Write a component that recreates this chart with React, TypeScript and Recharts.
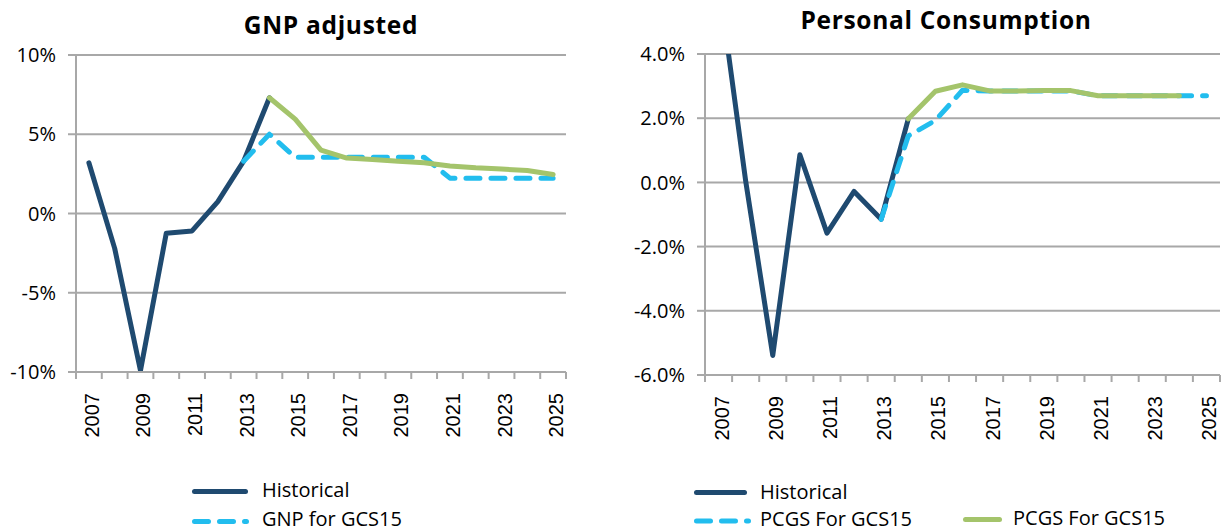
import { LineChart, Line, XAxis, YAxis, CartesianGrid, Legend } from 'recharts'

const YEARS = [2007, 2008, 2009, 2010, 2011, 2012, 2013, 2014, 2015, 2016, 2017, 2018, 2019, 2020, 2021, 2022, 2023, 2024, 2025]

// GNP adjusted, annual % change
const GNP_HISTORICAL = [3.2, -2.2, -9.9, -1.25, -1.1, 0.75, 3.3, 7.3, null, null, null, null, null, null, null, null, null, null, null]
const GNP_GCS15 = [null, null, null, null, null, null, 3.3, 5.0, 3.55, 3.55, 3.55, 3.55, 3.55, 3.55, 2.23, 2.23, 2.23, 2.23, 2.23]
const GNP_UPDATE = [null, null, null, null, null, null, null, 7.3, 5.95, 4.0, 3.5, 3.4, 3.3, 3.2, 3.0, 2.88, 2.8, 2.71, 2.46]

// personal consumption, annual % change
const PC_HISTORICAL = [6.3, 0.05, -5.39, 0.86, -1.58, -0.28, -1.15, 1.98, null, null, null, null, null, null, null, null, null, null, null]
const PC_GCS15 = [null, null, null, null, null, null, -1.15, 1.45, 1.93, 2.87, 2.85, 2.85, 2.85, 2.85, 2.7, 2.7, 2.7, 2.7, 2.7]
const PC_UPDATE = [null, null, null, null, null, null, null, 1.98, 2.84, 3.04, 2.85, 2.85, 2.86, 2.86, 2.7, 2.7, 2.7, 2.7, null]

const GNP_TICKS = [-10, -5, 0, 5, 10]
const PC_TICKS = [-6, -4, -2, 0, 2, 4]

const NAVY = '#1F4A70'
const SKY = '#22BDEE'
const OLIVE = '#A4C46B'
const GRID = '#A8A8A8'
const DASH = '14 11'
const FONT = '"Open Sans", sans-serif'

type Row = { year: number; hist: number | null; gcs: number | null; upd: number | null }

function buildRows(hist: (number | null)[], gcs: (number | null)[], upd: (number | null)[]): Row[] {
  return YEARS.map((year, i) => ({ year, hist: hist[i], gcs: gcs[i], upd: upd[i] }))
}

function yearTick(half: number) {
  return (props: any) => {
    const { x, y, payload } = props
    const year = payload.value
    const ly = y + 21
    return (
      <g>
        <line x1={x - half} y1={y} x2={x - half} y2={y + 7} stroke={GRID} strokeWidth={2} />
        {year === YEARS[YEARS.length - 1] && (
          <line x1={x + half} y1={y} x2={x + half} y2={y + 7} stroke={GRID} strokeWidth={2} />
        )}
        {(year - YEARS[0]) % 2 === 0 && (
          <text
            x={x}
            y={ly}
            dy="0.5em"
            transform={`rotate(-90 ${x} ${ly})`}
            textAnchor="end"
            fontSize={20}
            fontFamily='"Liberation Sans", Arial, sans-serif'
            fill="#000"
          >
            {year}
          </text>
        )}
      </g>
    )
  }
}

type Key = { label: string; color: string; dash?: string; x1: number; x2: number; y: number; tx: number; ty: number }

function legendArt(keys: Key[], w: number, h: number) {
  return () => (
    <svg width={w} height={h} style={{ pointerEvents: 'none' }}>
      {keys.map((k) => (
        <g key={k.label + k.color}>
          <line
            x1={k.x1}
            y1={k.y}
            x2={k.x2}
            y2={k.y}
            stroke={k.color}
            strokeWidth={5}
            strokeLinecap="round"
            strokeDasharray={k.dash}
          />
          <text x={k.tx} y={k.ty} fontSize={20} fontFamily={FONT} fill="#000">
            {k.label}
          </text>
        </g>
      ))}
    </svg>
  )
}

function Panel({
  rows,
  ticks,
  fmt,
  width,
  margin,
  keys,
}: {
  rows: Row[]
  ticks: number[]
  fmt: (v: number) => string
  width: number
  margin: { top: number; right: number; bottom: number; left: number }
  keys: Key[]
}) {
  const height = 532
  const plotW = width - margin.left - margin.right - 60
  const half = plotW / YEARS.length / 2
  return (
    <LineChart width={width} height={height} data={rows} margin={margin}>
      <CartesianGrid vertical={false} stroke={GRID} strokeWidth={2} />
      <XAxis
        dataKey="year"
        type="number"
        domain={[YEARS[0] - 0.5, YEARS[YEARS.length - 1] + 0.5]}
        ticks={YEARS}
        interval={0}
        height={60}
        tickSize={0}
        tickMargin={0}
        tickLine={false}
        axisLine={{ stroke: GRID, strokeWidth: 2 }}
        tick={yearTick(half)}
      />
      <YAxis
        domain={[ticks[0], ticks[ticks.length - 1]]}
        ticks={ticks}
        allowDataOverflow
        width={60}
        tickSize={8}
        tickMargin={12}
        tickFormatter={fmt}
        axisLine={{ stroke: GRID, strokeWidth: 2 }}
        tickLine={{ stroke: GRID, strokeWidth: 2 }}
        tick={{ fill: '#000', fontSize: 20, fontFamily: FONT }}
      />
      <Legend
        layout="horizontal"
        verticalAlign="middle"
        align="center"
        wrapperStyle={{ left: 0, top: 0, width, height }}
        content={legendArt(keys, width, height)}
      />
      <Line type="linear" dataKey="hist" stroke={NAVY} strokeWidth={5} strokeLinecap="round" strokeLinejoin="round" dot={false} activeDot={false} isAnimationActive={false} />
      <Line type="linear" dataKey="gcs" stroke={SKY} strokeWidth={5} strokeDasharray={DASH} strokeLinecap="round" strokeLinejoin="round" dot={false} activeDot={false} isAnimationActive={false} />
      <Line type="linear" dataKey="upd" stroke={OLIVE} strokeWidth={5} strokeLinecap="round" strokeLinejoin="round" dot={false} activeDot={false} isAnimationActive={false} />
    </LineChart>
  )
}

const titleStyle = {
  position: 'absolute' as const,
  width: 400,
  textAlign: 'center' as const,
  fontFamily: FONT,
  fontWeight: 700,
  fontSize: 24.5,
  letterSpacing: 0.7,
  lineHeight: 1,
  color: '#000',
}

export default function App() {
  const gnpRows = buildRows(GNP_HISTORICAL, GNP_GCS15, GNP_UPDATE)
  const pcRows = buildRows(PC_HISTORICAL, PC_GCS15, PC_UPDATE)

  const gnpKeys: Key[] = [
    { label: 'Historical', color: NAVY, x1: 194.5, x2: 245.5, y: 491.5, tx: 262, ty: 497 },
    { label: 'GNP for GCS15', color: SKY, dash: DASH, x1: 194.5, x2: 246.5, y: 521.5, tx: 262, ty: 525.5 },
  ]
  const pcKeys: Key[] = [
    { label: 'Historical', color: NAVY, x1: 96.5, x2: 144.5, y: 492.5, tx: 160, ty: 499 },
    { label: 'PCGS For GCS15', color: SKY, dash: DASH, x1: 96.5, x2: 148.5, y: 521, tx: 160, ty: 525.5 },
    { label: 'PCGS For GCS15', color: OLIVE, x1: 365.5, x2: 399.5, y: 519.5, tx: 413, ty: 524.5 },
  ]

  return (
    <div style={{ position: 'absolute', left: 0, top: 0, width: 1221, height: 532, background: '#fff', overflow: 'hidden' }}>
      <div style={{ ...titleStyle, left: 131, top: 12.5 }}>GNP adjusted</div>
      <div style={{ ...titleStyle, left: 746, top: 7.5 }}>Personal Consumption</div>
      <div style={{ position: 'absolute', left: 0, top: 0 }}>
        <Panel
          rows={gnpRows}
          ticks={GNP_TICKS}
          fmt={(v) => `${v}%`}
          width={600}
          margin={{ top: 55, right: 34, bottom: 100, left: 16 }}
          keys={gnpKeys}
        />
      </div>
      <div style={{ position: 'absolute', left: 600, top: 0 }}>
        <Panel
          rows={pcRows}
          ticks={PC_TICKS}
          fmt={(v) => `${v.toFixed(1)}%`}
          width={621}
          margin={{ top: 54, right: 1, bottom: 97, left: 45 }}
          keys={pcKeys}
        />
      </div>
    </div>
  )
}
